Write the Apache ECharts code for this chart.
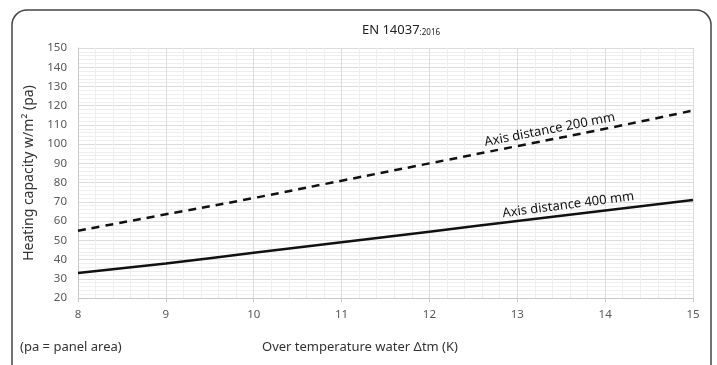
<!DOCTYPE html>
<html>
<head>
<meta charset="utf-8">
<script src="https://cdn.jsdelivr.net/npm/echarts@6/dist/echarts.min.js"></script>
<style>
    html, body {
        margin: 0;
        padding: 0;
        background: #fff;
    }
    #chart {
        width: 717px;
        height: 365px;
    }
</style>
</head>
<body>
<div id="chart"></div>
<script>
    // over temperature (K)
    var temps = [8, 9, 10, 11, 12, 13, 14, 15];
    // heating capacity w/m2, axis distance 200 mm (dashed)
    var dist200 = [55, 63.5, 72, 81, 90, 99, 108, 117.5];
    // heating capacity w/m2, axis distance 400 mm (solid)
    var dist400 = [33, 38, 43.5, 49, 54.5, 60, 65.5, 71];
    var xTicks = [8, 15, 1];
    var yTicks = [20, 150, 10];

    function pairs(xs, ys) {
        return xs.map(function (x, i) { return [x, ys[i]]; });
    }

    var labelFont = 'Noto Sans';
    var myChart = echarts.init(document.getElementById('chart'));

    myChart.setOption({
        animation: false,
        title: {
            text: '{a|EN 14037}{b|:2016}',
            left: 396,
            top: 19,
            textAlign: 'center',
            textStyle: {
                rich: {
                    a: {fontFamily: labelFont, fontSize: 13, fontWeight: 'normal', color: '#222'},
                    b: {fontFamily: labelFont, fontSize: 8, fontWeight: 'normal', color: '#222', padding: [5, 0, 0, 0]}
                }
            }
        },
        grid: {
            left: 78,
            right: 24,
            top: 48,
            bottom: 67
        },
        xAxis: {
            type: 'value',
            min: xTicks[0],
            max: xTicks[1],
            interval: xTicks[2],
            axisLine: {show: true, lineStyle: {color: '#c8c8c8'}},
            axisTick: {show: true, length: 4, lineStyle: {color: '#c8c8c8'}},
            axisLabel: {color: '#595959', fontFamily: labelFont, fontSize: 11.5, margin: 11},
            splitLine: {show: true, lineStyle: {color: '#dcdcdc'}},
            minorTick: {show: false, splitNumber: 5},
            minorSplitLine: {show: true, lineStyle: {color: '#eeeeee'}}
        },
        yAxis: {
            type: 'value',
            min: yTicks[0],
            max: yTicks[1],
            interval: yTicks[2],
            name: 'Heating capacity w/m² (pa)',
            nameLocation: 'middle',
            nameGap: 31,
            nameTextStyle: {fontFamily: labelFont, fontSize: 14, color: '#333'},
            axisLine: {show: true, lineStyle: {color: '#c8c8c8'}},
            axisTick: {show: false},
            axisLabel: {color: '#595959', fontFamily: labelFont, fontSize: 11.5, margin: 11},
            splitLine: {show: true, lineStyle: {color: '#dcdcdc'}},
            minorTick: {show: false, splitNumber: 5},
            minorSplitLine: {show: true, lineStyle: {color: '#eeeeee'}}
        },
        series: [{
            name: 'Axis distance 200 mm',
            type: 'line',
            smooth: true,
            symbol: 'none',
            lineStyle: {color: '#111', width: 2.5, type: [8, 6]},
            data: pairs(temps, dist200),
            markPoint: {
                symbol: 'circle',
                symbolSize: 1,
                itemStyle: {color: 'rgba(0,0,0,0)'},
                label: {
                    show: true,
                    position: 'inside',
                    rotate: 11,
                    formatter: 'Axis distance 200 mm',
                    fontFamily: labelFont,
                    fontSize: 13,
                    color: '#111'
                },
                data: [{coord: [13.37, 107.5]}]
            }
        }, {
            name: 'Axis distance 400 mm',
            type: 'line',
            smooth: true,
            symbol: 'none',
            lineStyle: {color: '#111', width: 2.5},
            data: pairs(temps, dist400),
            markPoint: {
                symbol: 'circle',
                symbolSize: 1,
                itemStyle: {color: 'rgba(0,0,0,0)'},
                label: {
                    show: true,
                    position: 'inside',
                    rotate: 7.5,
                    formatter: 'Axis distance 400 mm',
                    fontFamily: labelFont,
                    fontSize: 13,
                    color: '#111'
                },
                data: [{coord: [13.58, 68.4]}]
            }
        }],
        graphic: [{
            type: 'rect',
            shape: {x: 12, y: 10, width: 699, height: 370, r: 15},
            style: {fill: 'none', stroke: '#444', lineWidth: 1.5},
            silent: true
        }, {
            type: 'text',
            left: 20,
            top: 341,
            style: {text: '(pa = panel area)', font: '13px "Noto Sans"', fill: '#333'}
        }, {
            type: 'text',
            left: 262,
            top: 341,
            style: {text: 'Over temperature water Δtm (K)', font: '13px "Noto Sans"', fill: '#333'}
        }]
    });
</script>
</body>
</html>
